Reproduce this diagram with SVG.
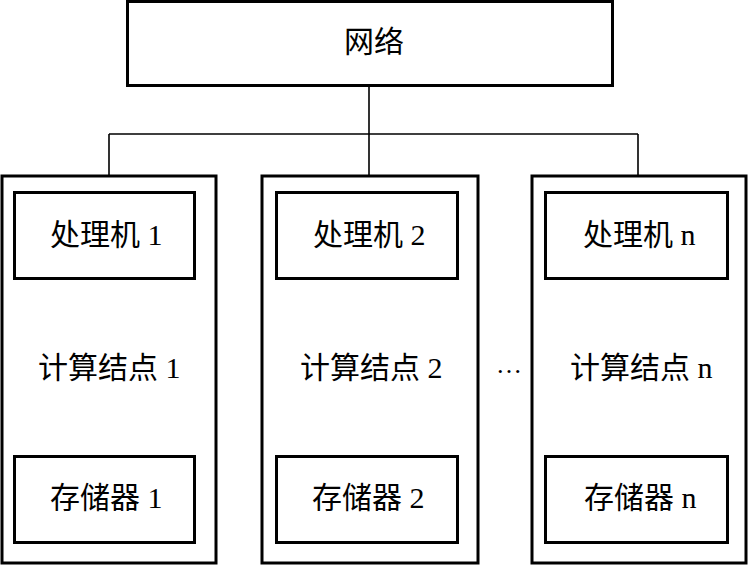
<svg xmlns="http://www.w3.org/2000/svg" width="749" height="565" viewBox="0 0 749 565">
<style>
.box{fill:none;stroke:#000;stroke-width:3}
.conn{fill:none;stroke:#000;stroke-width:1.6}
text{font-family:"Liberation Serif","Noto Sans CJK SC",serif;font-size:30px;fill:#000}
</style>
<rect width="749" height="565" fill="#fff"/>
<g id="connectors">
<path class="conn" d="M369,86 V176 M109,134 H638 M109,134 V176 M638,134 V176"/>
</g>
<g id="network">
<rect class="box" x="127.5" y="1.5" width="485" height="84"/>
<text x="374" y="52" text-anchor="middle">网络</text>
</g>
<g id="node1">
<rect class="box" x="2" y="176" width="214" height="387"/>
<text x="38" y="378">计算结点 1</text>
</g>
<g id="proc1">
<rect class="box" x="14.5" y="192.5" width="180" height="86"/>
<text x="50" y="245">处理机 1</text>
</g>
<g id="mem1">
<rect class="box" x="14.5" y="456.5" width="180" height="86"/>
<text x="50" y="508">存储器 1</text>
</g>
<g id="node2">
<rect class="box" x="262" y="176" width="216" height="387"/>
<text x="300" y="378">计算结点 2</text>
</g>
<g id="proc2">
<rect class="box" x="276.5" y="192.5" width="181" height="86"/>
<text x="313" y="245">处理机 2</text>
</g>
<g id="mem2">
<rect class="box" x="276.5" y="456.5" width="181" height="86"/>
<text x="312" y="508">存储器 2</text>
</g>
<g id="ellipsis">
<text x="496" y="373" style="font-size:26px">…</text>
</g>
<g id="noden">
<rect class="box" x="532" y="176" width="214" height="387"/>
<text x="570" y="378">计算结点 n</text>
</g>
<g id="procn">
<rect class="box" x="545.5" y="192.5" width="182" height="86"/>
<text x="583" y="245">处理机 n</text>
</g>
<g id="memn">
<rect class="box" x="545.5" y="456.5" width="182" height="86"/>
<text x="584" y="508">存储器 n</text>
</g>
</svg>
